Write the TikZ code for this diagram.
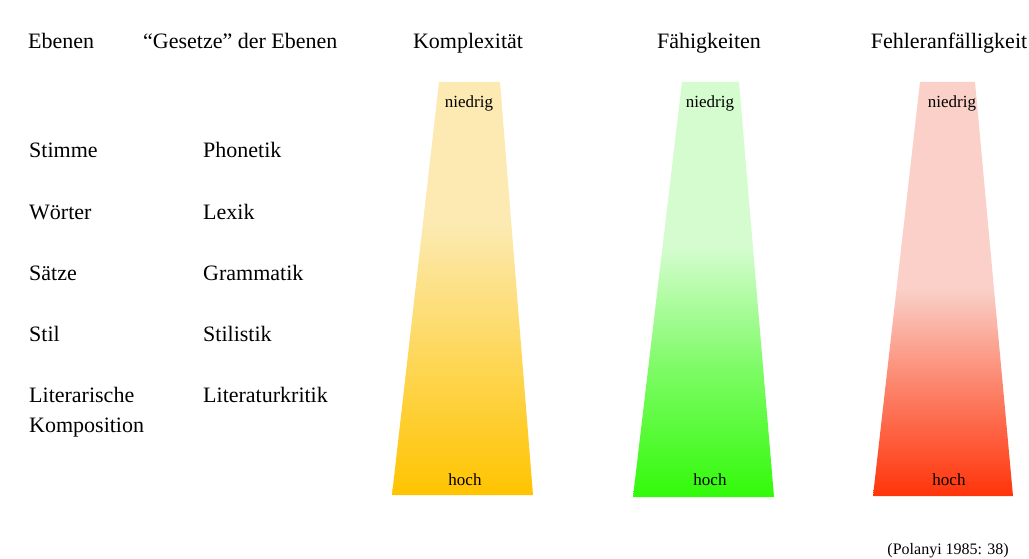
\documentclass[tikz,border=0pt]{standalone}
\usepackage{fontspec}
\setmainfont{Liberation Serif}

\definecolor{ylwpale}{RGB}{252,234,178}
\definecolor{ylwfull}{RGB}{255,196,0}
\definecolor{grnpale}{RGB}{212,252,206}
\definecolor{grnfull}{RGB}{50,250,10}
\definecolor{redpale}{RGB}{250,208,200}
\definecolor{redfull}{RGB}{255,52,10}

% bottom of the bar sits at 25bp, top at 75bp
\pgfdeclareverticalshading{ylwfade}{100bp}{color(0bp)=(ylwfull); color(25bp)=(ylwfull);
  color(40bp)=(ylwfull!55!ylwpale); color(58bp)=(ylwpale); color(100bp)=(ylwpale)}
\pgfdeclareverticalshading{grnfade}{100bp}{color(0bp)=(grnfull); color(25bp)=(grnfull);
  color(40bp)=(grnfull!55!grnpale); color(55bp)=(grnpale); color(100bp)=(grnpale)}
\pgfdeclareverticalshading{redfade}{100bp}{color(0bp)=(redfull); color(25bp)=(redfull);
  color(38bp)=(redfull!50!redpale); color(50bp)=(redpale); color(100bp)=(redpale)}

\begin{document}
\begin{tikzpicture}[x=1pt,y=-1pt]

      \useasboundingbox (0,0) rectangle (1029,559);

      % the three bars
      \shade[shading=ylwfade] (439,82) -- (500,82) -- (533,495) -- (392,495) -- cycle;
      \shade[shading=grnfade] (682,82) -- (739,82) -- (774,497) -- (633,497) -- cycle;
      \shade[shading=redfade] (920,82) -- (975,82) -- (1013,496) -- (873,496) -- cycle;

      \begin{scope}[every node/.style={anchor=base west, inner sep=0pt,
          font=\fontsize{22}{26}\selectfont}]
        \node (ebenen)  at (28,49)  {Ebenen};
        \node (gesetze) at (143,49) {“Gesetze” der Ebenen};

        \node (stimme)  at (29,158) {Stimme};
        \node (woerter) at (29,220) {Wörter};
        \node (saetze)  at (29,280) {Sätze};
        \node (stil)    at (29,341) {Stil};
        \node (lit)     at (29,402) {Literarische};
        \node (komp)    at (29,432) {Komposition};

        \node (phon)    at (203,158) {Phonetik};
        \node (lex)     at (203,220) {Lexik};
        \node (gram)    at (203,280) {Grammatik};
        \node (stilist) at (203,341) {Stilistik};
        \node (litkrit) at (203,402) {Literaturkritik};
      \end{scope}

      \begin{scope}[every node/.style={anchor=base, inner sep=0pt,
          font=\fontsize{22}{26}\selectfont}]
        \node (komplex) at (468,49) {Komplexität};
        \node (faehig)  at (709,49) {Fähigkeiten};
        \node (fehler)  at (949,49) {Fehleranfälligkeit};
      \end{scope}

      \begin{scope}[every node/.style={anchor=base, inner sep=0pt,
          font=\fontsize{17}{20}\selectfont}]
        \node (lowK)  at (469,108) {niedrig};
        \node (highK) at (465,485) {hoch};
        \node (lowF)  at (710,108) {niedrig};
        \node (highF) at (710,485) {hoch};
        \node (lowE)  at (952,108) {niedrig};
        \node (highE) at (949,485) {hoch};
      \end{scope}

      \node[anchor=base east, inner sep=0pt, font=\fontsize{16}{19}\selectfont]
        (quelle) at (1009,554) {(Polanyi 1985: 38)};

    \end{tikzpicture}
\end{document}
